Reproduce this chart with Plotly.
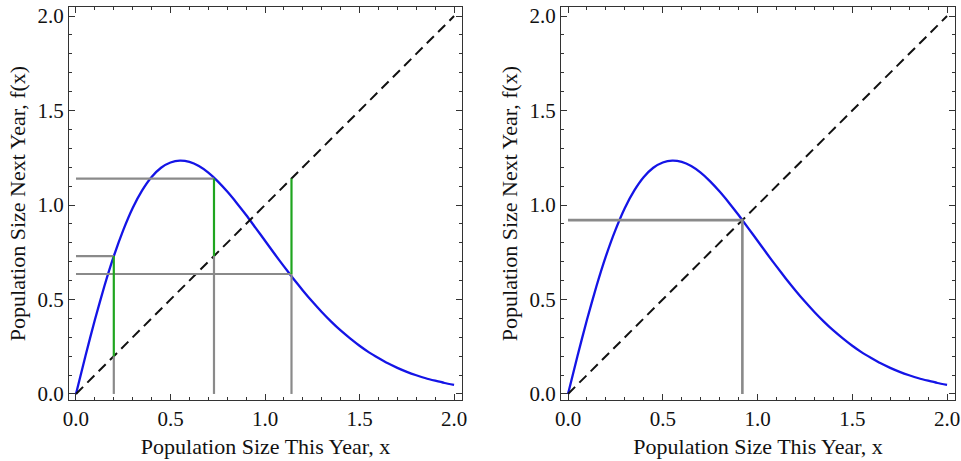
import plotly.graph_objects as go

# ---- data ----
x_grid = [0.0, 0.05, 0.10, 0.15, 0.20, 0.25, 0.30, 0.35, 0.40, 0.45, 0.50,
          0.55, 0.60, 0.65, 0.70, 0.75, 0.80, 0.85, 0.90, 0.95, 1.00,
          1.05, 1.10, 1.15, 1.20, 1.25, 1.30, 1.35, 1.40, 1.45, 1.50,
          1.55, 1.60, 1.65, 1.70, 1.75, 1.80, 1.85, 1.90, 1.95, 2.00]
f_values = [0.0, 0.201, 0.393, 0.570, 0.729, 0.867, 0.984, 1.077, 1.148, 1.197, 1.225,
            1.235, 1.228, 1.206, 1.171, 1.125, 1.071, 1.011, 0.947, 0.879, 0.811,
            0.742, 0.675, 0.610, 0.548, 0.489, 0.434, 0.383, 0.336, 0.294, 0.255,
            0.220, 0.190, 0.162, 0.138, 0.117, 0.099, 0.083, 0.070, 0.058, 0.048]
diag = [0.0, 2.0]
cobweb_x = [0.20, 0.73, 1.14]
cobweb_fx = [0.73, 1.14, 0.635]
equilibrium = 0.92
x_title = "Population Size This Year, x"
y_title = "Population Size Next Year, f(x)"

BLUE = "#1414e6"
GRAY = "#8a8a8a"
GREEN = "#1fa51f"
FONT = "Liberation Serif"

fig = go.Figure()


def add_panel(xa, ya):
    fig.add_trace(go.Scatter(x=x_grid, y=f_values, mode="lines", xaxis=xa, yaxis=ya,
                             line=dict(color=BLUE, width=2.3, shape="spline", smoothing=0.6),
                             hoverinfo="skip", showlegend=False))
    fig.add_trace(go.Scatter(x=diag, y=diag, mode="lines", xaxis=xa, yaxis=ya,
                             line=dict(color="#111111", width=2, dash="10px,6px"),
                             hoverinfo="skip", showlegend=False))


add_panel("x", "y")
add_panel("x2", "y2")

# left panel cobweb
gx, gy, grx, gry = [], [], [], []
for xv, fv in zip(cobweb_x, cobweb_fx):
    gx += [xv, xv, None, 0.0, xv, None]
    gy += [0.0, min(xv, fv), None, fv, fv, None]
    grx += [xv, xv, None]
    gry += [xv, fv, None]
fig.add_trace(go.Scatter(x=gx, y=gy, mode="lines", xaxis="x", yaxis="y",
                         line=dict(color=GRAY, width=2.2), hoverinfo="skip", showlegend=False))
fig.add_trace(go.Scatter(x=grx, y=gry, mode="lines", xaxis="x", yaxis="y",
                         line=dict(color=GREEN, width=2.2), hoverinfo="skip", showlegend=False))

# right panel equilibrium
fig.add_trace(go.Scatter(x=[0.0, equilibrium, equilibrium], y=[equilibrium, equilibrium, 0.0],
                         mode="lines", xaxis="x2", yaxis="y2",
                         line=dict(color=GRAY, width=2.6), hoverinfo="skip", showlegend=False))

tickfont = dict(family=FONT, size=21, color="#111111")
titlefont = dict(family=FONT, size=22, color="#111111")
common = dict(showline=True, linecolor="#333333", linewidth=1, mirror="allticks",
              ticks="inside", ticklen=6, tickwidth=1, tickcolor="#333333",
              tickmode="linear", tick0=0, dtick=0.5, tickformat=".1f",
              ticklabeloverflow="allow",
              showgrid=False, zeroline=False, tickfont=tickfont, automargin=False,
              minor=dict(ticks="inside", ticklen=3, tickwidth=1, tickcolor="#333333",
                         dtick=0.1, tick0=0, showgrid=False))

xr = [-0.037, 2.042]
yr = [-0.032, 2.048]
W = 886.0
fig.update_layout(
    width=961, height=461,
    margin=dict(l=69, r=6, t=7, b=61),
    paper_bgcolor="white", plot_bgcolor="white",
    xaxis=dict(domain=[0, 393 / W], range=xr, anchor="y",
               title=dict(text=x_title, font=titlefont, standoff=8), **common),
    yaxis=dict(domain=[0, 1], range=yr, anchor="x",
               title=dict(text=y_title, font=titlefont, standoff=5), **common),
    xaxis2=dict(domain=[492 / W, 1], range=xr, anchor="y2",
                title=dict(text=x_title, font=titlefont, standoff=8), **common),
    yaxis2=dict(domain=[0, 1], range=yr, anchor="x2",
                title=dict(text=y_title, font=titlefont, standoff=5), **common),
)

fig.write_html(
    "out.html",
    config={"displayModeBar": False},
    post_script="document.body.style.margin='0px';document.body.style.overflow='hidden';",
)
